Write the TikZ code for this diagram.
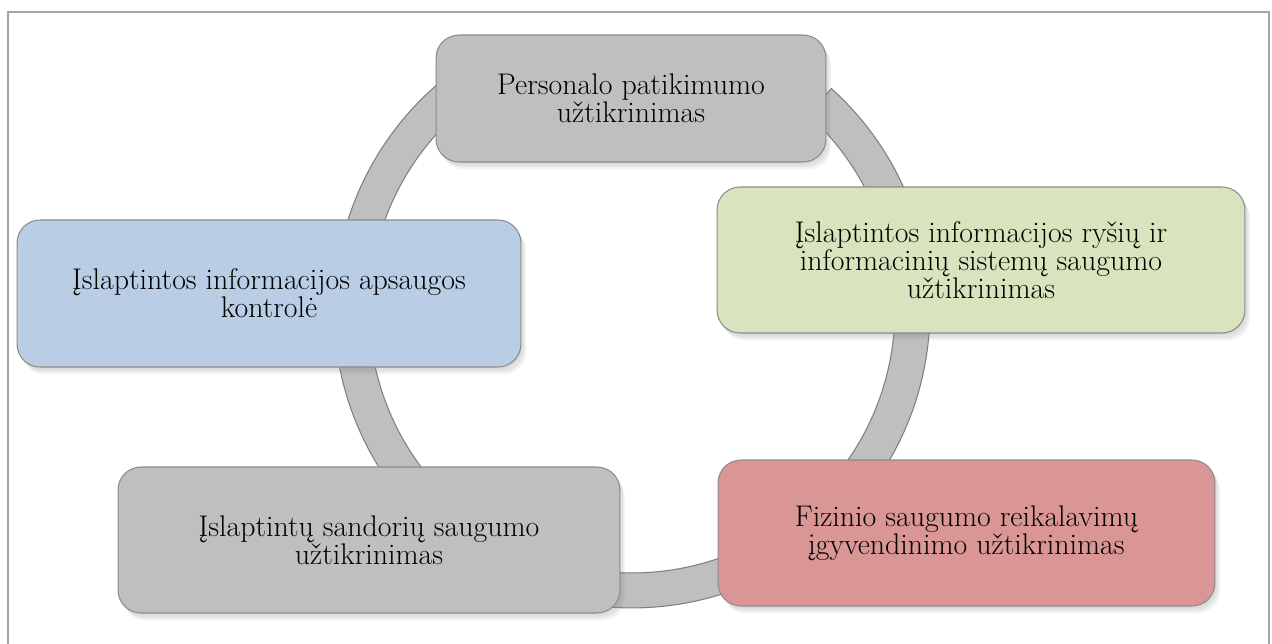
\documentclass[tikz,border=0pt]{standalone}
\usepackage{fontspec}
\usetikzlibrary{shadows}
\definecolor{ringfill}{HTML}{BFBFBF}
\definecolor{ringline}{HTML}{7F7F7F}
\definecolor{boxline}{HTML}{8C8C8C}
\definecolor{grayfill}{HTML}{BFBFBF}
\definecolor{greenfill}{HTML}{D7E4BD}
\definecolor{bluefill}{HTML}{B9CDE5}
\definecolor{redfill}{HTML}{D99694}
\definecolor{frameline}{HTML}{A6A6A6}
\tikzset{
  cyclebox/.style={draw=boxline, line width=0.6pt, rounded corners=0.46cm,
    align=center, inner sep=0pt, font=\fontsize{17pt}{15.9pt}\selectfont,
    drop shadow={opacity=0.10, shadow xshift=0.03cm, shadow yshift=-0.05cm},
    drop shadow={opacity=0.12, shadow xshift=0.07cm, shadow yshift=-0.10cm},
    drop shadow={opacity=0.10, shadow xshift=0.10cm, shadow yshift=-0.15cm}},
  ringseg/.style={fill=ringfill, draw=ringline, line width=0.6pt},
  framebox/.style={draw=frameline, line width=1.1pt}
}
\begin{document}
\begin{tikzpicture}[x=0.02cm,y=-0.02cm]
\useasboundingbox (0,0) rectangle (1272,644);
\draw[framebox] (8,12) rectangle (1269,680);
\coordinate (c) at (632,310);
\draw[ringseg] ([shift={(48:5.96cm)}]c) arc[start angle=48, end angle=-232, radius=5.96cm]
  -- ([shift={(128:5.26cm)}]c) arc[start angle=-232, end angle=48, radius=5.26cm] -- cycle;
\node[cyclebox, fill=grayfill, minimum width=7.8cm, minimum height=2.54cm] (top) at (631,98.5)
  {Personalo patikimumo\\užtikrinimas};
\node[cyclebox, fill=greenfill, minimum width=10.56cm, minimum height=2.92cm] (right) at (981,260)
  {Įslaptintos informacijos ryšių ir\\informacinių sistemų saugumo\\užtikrinimas};
\node[cyclebox, fill=bluefill, minimum width=10.08cm, minimum height=2.94cm] (left) at (269,293.5)
  {Įslaptintos informacijos apsaugos\\kontrolė};
\node[cyclebox, fill=grayfill, minimum width=10.04cm, minimum height=2.92cm] (botleft) at (369,540)
  {Įslaptintų sandorių saugumo\\užtikrinimas};
\node[cyclebox, fill=redfill, minimum width=9.94cm, minimum height=2.92cm] (botright) at (966.5,533)
  {Fizinio saugumo reikalavimų\\įgyvendinimo užtikrinimas};
\end{tikzpicture}
\end{document}
